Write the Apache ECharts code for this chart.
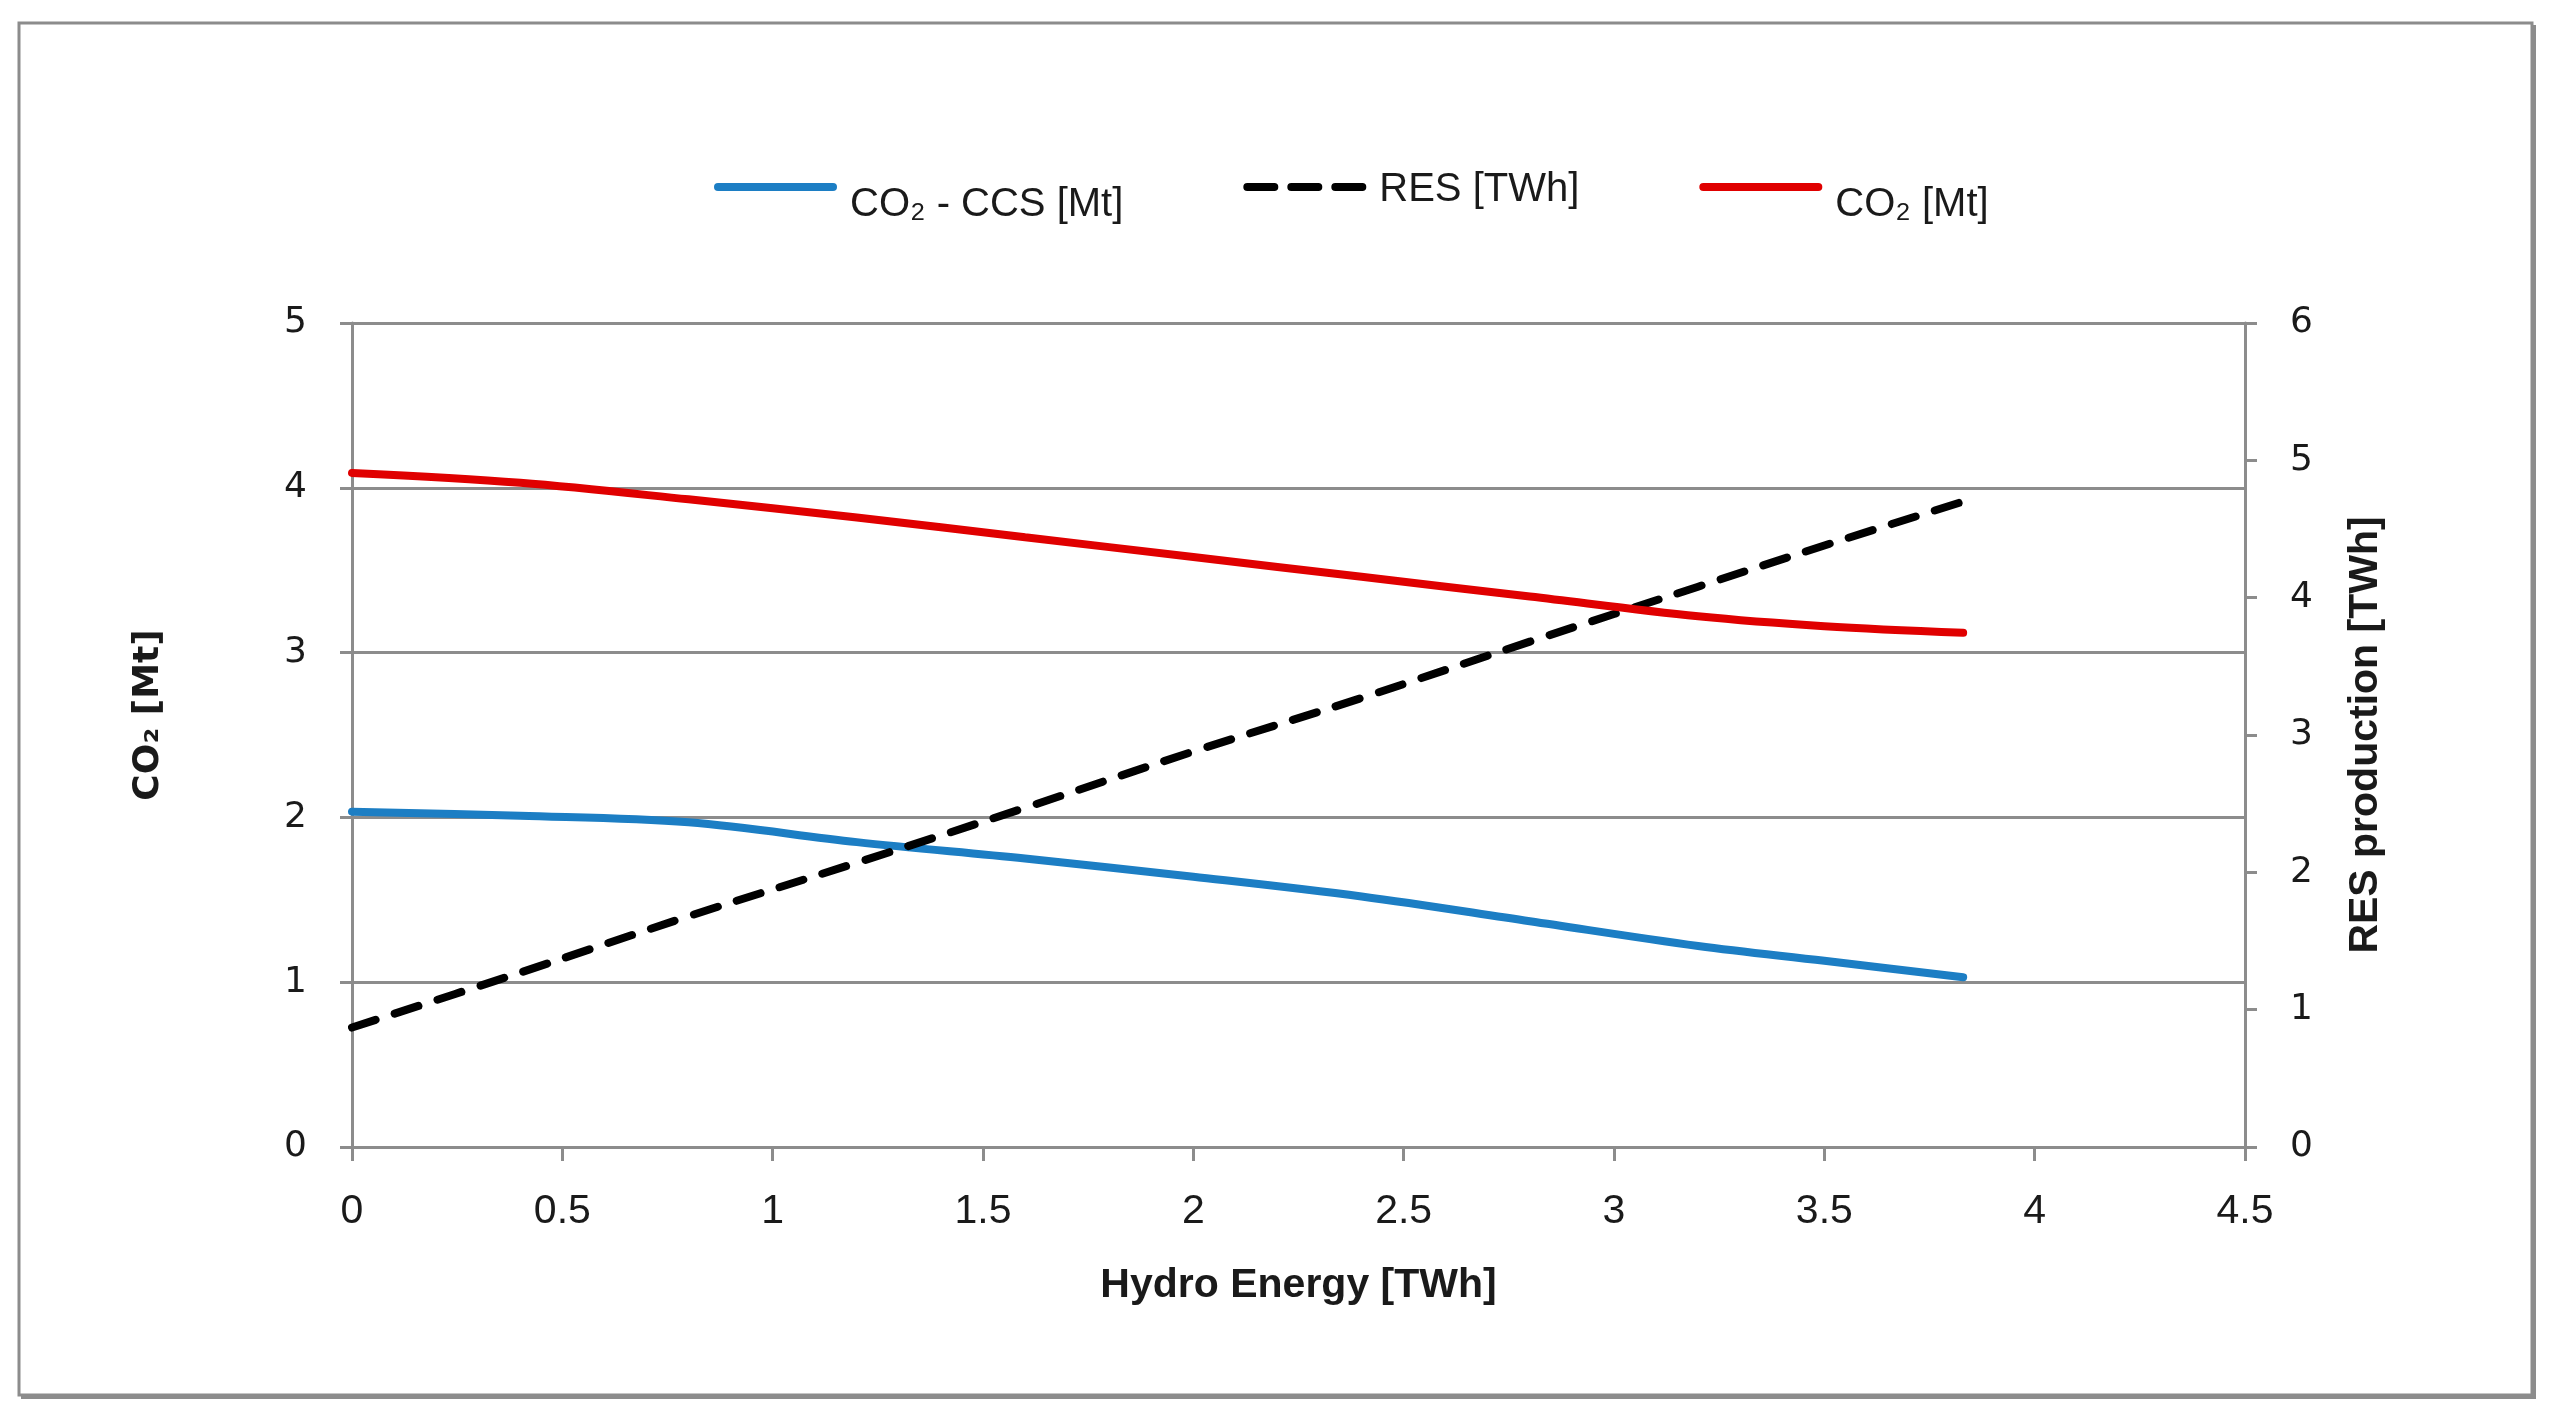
<!DOCTYPE html>
<html><head><meta charset="utf-8">
<script src="https://cdn.jsdelivr.net/npm/echarts@6/dist/echarts.min.js"></script>
<style>html,body{margin:0;padding:0;background:#fff}#c{width:2559px;height:1420px}</style>
</head><body><div id="c"></div>
<script>
// Data
const hydro  = [0, 0.4, 0.8, 1.2, 1.6, 2.0, 2.4, 2.8, 3.2, 3.5, 3.83];       // Hydro Energy [TWh]
const co2ccs = [2.035, 2.01, 1.97, 1.85, 1.75, 1.64, 1.52, 1.37, 1.22, 1.13, 1.03]; // CO2 - CCS [Mt]
const resProd = [0.87, 1.27, 1.68, 2.07, 2.47, 2.88, 3.27, 3.68, 4.08, 4.38, 4.70]; // RES [TWh]
const co2    = [4.09, 4.03, 3.93, 3.82, 3.70, 3.58, 3.46, 3.34, 3.22, 3.16, 3.12]; // CO2 [Mt]
const seriesNames = ['CO\u2082 - CCS [Mt]', 'RES [TWh]', 'CO\u2082 [Mt]'];
const xAxisRange = [0, 4.5, 0.5];
const leftAxisRange = [0, 5, 1];
const rightAxisRange = [0, 6, 1];

const pairs = ys => hydro.map((x, i) => [x, ys[i]]);
const GRID = '#8c8c8c';
const SOLID_ICON = 'path://M4,0H119A4,4 0 0 1 119,8H4A4,4 0 0 1 4,0Z';
const DASH_ICON = 'path://M4,0H31A4,4 0 0 1 31,8H4A4,4 0 0 1 4,0Z M48,0H75A4,4 0 0 1 75,8H48A4,4 0 0 1 48,0Z M92,0H119A4,4 0 0 1 119,8H92A4,4 0 0 1 92,0Z';
const chart = echarts.init(document.getElementById('c'));
chart.setOption({
  backgroundColor: '#fff',
  animation: false,
  graphic: [
    {type: 'rect', silent: true, shape: {x: 19, y: 23, width: 2513, height: 1372},
     style: {fill: 'none', stroke: GRID, lineWidth: 3}},
    {type: 'polyline', silent: true, shape: {points: [[2534, 25], [2534, 1397], [21, 1397]]},
     style: {fill: null, stroke: GRID, lineWidth: 4}}
  ],
  legend: {
    left: 709, top: 165,
    itemWidth: 123, itemHeight: 8, itemGap: 120,
    itemStyle: {borderWidth: 0},
    data: [
      {name: seriesNames[0], icon: SOLID_ICON},
      {name: seriesNames[1], icon: DASH_ICON},
      {name: seriesNames[2], icon: SOLID_ICON}
    ],
    formatter: n => n.indexOf('RES') === 0 ? '{r|' + n + '}' : '{d|' + n + '}',
    textStyle: {
      fontFamily: 'Liberation Sans', fontSize: 40, color: '#1a1a1a',
      rich: {
        r: {fontFamily: 'Liberation Sans', fontSize: 40, color: '#1a1a1a', padding: [6, 0, 0, 8]},
        d: {fontFamily: 'Liberation Sans', fontSize: 40, color: '#1a1a1a', padding: [36, 0, 0, 8]}
      }
    }
  },
  grid: {left: 352, right: 314, top: 323, bottom: 273, containLabel: false},
  xAxis: {
    type: 'value', min: xAxisRange[0], max: xAxisRange[1], interval: xAxisRange[2],
    name: 'Hydro Energy [TWh]', nameLocation: 'middle', nameGap: 118,
    nameTextStyle: {fontFamily: 'Liberation Sans', fontWeight: 'bold', fontSize: 41, color: '#1a1a1a'},
    axisLine: {show: true, onZero: false, lineStyle: {color: GRID, width: 3}},
    axisTick: {show: true, length: 14, lineStyle: {color: GRID, width: 3}},
    axisLabel: {margin: 44, fontFamily: 'Liberation Sans', fontSize: 41, color: '#1a1a1a'},
    splitLine: {show: false}
  },
  yAxis: [
    {
      type: 'value', position: 'left', min: leftAxisRange[0], max: leftAxisRange[1], interval: leftAxisRange[2],
      name: 'CO\u2082 [Mt]', nameLocation: 'middle', nameGap: 185,
      nameTextStyle: {fontFamily: 'DejaVu Sans', fontWeight: 'bold', fontSize: 36, color: '#1a1a1a', padding: [0, 0, 0, 40]},
      axisLine: {show: true, lineStyle: {color: GRID, width: 3}},
      axisTick: {show: true, length: 12, lineStyle: {color: GRID, width: 3}},
      axisLabel: {margin: 45, fontFamily: 'DejaVu Sans', fontSize: 36, color: '#1a1a1a'},
      splitLine: {show: true, lineStyle: {color: GRID, width: 3}}
    },
    {
      type: 'value', position: 'right', min: rightAxisRange[0], max: rightAxisRange[1], interval: rightAxisRange[2],
      name: 'RES production [TWh]', nameLocation: 'middle', nameGap: 100,
      nameTextStyle: {fontFamily: 'Liberation Sans', fontWeight: 'bold', fontSize: 41, color: '#1a1a1a'},
      axisLine: {show: true, lineStyle: {color: GRID, width: 3}},
      axisTick: {show: true, length: 12, lineStyle: {color: GRID, width: 3}},
      axisLabel: {margin: 45, fontFamily: 'DejaVu Sans', fontSize: 36, color: '#1a1a1a'},
      splitLine: {show: false}
    }
  ],
  series: [
    {name: seriesNames[0], type: 'line', yAxisIndex: 0, data: pairs(co2ccs),
     smooth: 0.35, symbol: 'none', showSymbol: false,
     lineStyle: {color: '#1c7ec4', width: 8, cap: 'round'}, itemStyle: {color: '#1c7ec4'}},
    {name: seriesNames[1], type: 'line', yAxisIndex: 1, data: pairs(resProd),
     smooth: 0.35, symbol: 'none', showSymbol: false,
     lineStyle: {color: '#000', width: 8, type: [25, 20], cap: 'round'}, itemStyle: {color: '#000'}},
    {name: seriesNames[2], type: 'line', yAxisIndex: 0, data: pairs(co2),
     smooth: 0.35, symbol: 'none', showSymbol: false,
     lineStyle: {color: '#e00000', width: 8, cap: 'round'}, itemStyle: {color: '#e00000'}}
  ]
});
</script></body></html>
